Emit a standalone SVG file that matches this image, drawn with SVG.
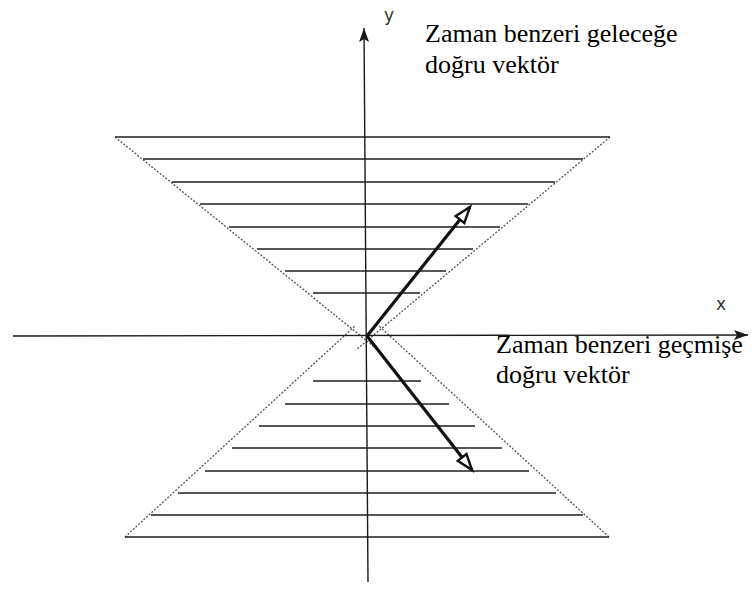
<svg xmlns="http://www.w3.org/2000/svg" width="752" height="592" viewBox="0 0 752 592">
<style>
.hatch{stroke:#1e1e1e;stroke-width:1.7;fill:none}
.edge{stroke:#555;stroke-width:1.3;stroke-dasharray:2 1.6;fill:none}
.axis{stroke:#1a1a1a;stroke-width:1.4;fill:none}
.vec{stroke:#111;stroke-width:3.2;fill:none}
.lbl{font-family:"Liberation Serif","Times New Roman",serif;font-size:26px;fill:#000}
.ax{font-family:"DejaVu Sans","Liberation Sans",sans-serif;font-size:17px;fill:#333}
</style>
<defs>
<marker id="axhead" markerUnits="userSpaceOnUse" markerWidth="16" markerHeight="12" refX="14" refY="6" orient="auto">
<path d="M0,1 L14,6 L0,11 L3,6 Z" fill="#1a1a1a"/>
</marker>
<marker id="vhead" markerUnits="userSpaceOnUse" markerWidth="22" markerHeight="16" refX="18" refY="8" orient="auto">
<path d="M2,2.5 L18,8 L2,13.5 Z" fill="#fff" stroke="#111" stroke-width="2.4" stroke-linejoin="miter"/>
</marker>
</defs>
<rect width="752" height="592" fill="#fff"/>
<g id="cone-future">
<line class="edge" x1="115" y1="137" x2="378" y2="350"/>
<line class="edge" x1="610" y1="137" x2="356" y2="350"/>
<line class="hatch" x1="115" y1="137" x2="610" y2="137"/>
<line class="hatch" x1="143" y1="159" x2="583" y2="159"/>
<line class="hatch" x1="172" y1="182" x2="555" y2="182"/>
<line class="hatch" x1="200" y1="204" x2="528" y2="204"/>
<line class="hatch" x1="229" y1="227" x2="500" y2="227"/>
<line class="hatch" x1="257" y1="249" x2="473" y2="249"/>
<line class="hatch" x1="285" y1="271" x2="446" y2="271"/>
<line class="hatch" x1="313" y1="293" x2="420" y2="293"/>
</g>
<g id="cone-past">
<line class="edge" x1="125" y1="537" x2="355" y2="326"/>
<line class="edge" x1="609" y1="537" x2="379" y2="326"/>
<line class="hatch" x1="313" y1="381" x2="421" y2="381"/>
<line class="hatch" x1="285" y1="404" x2="449" y2="404"/>
<line class="hatch" x1="259" y1="426" x2="475" y2="426"/>
<line class="hatch" x1="232" y1="448" x2="502" y2="448"/>
<line class="hatch" x1="205" y1="471" x2="529" y2="471"/>
<line class="hatch" x1="178" y1="493" x2="556" y2="493"/>
<line class="hatch" x1="151" y1="515" x2="583" y2="515"/>
<line class="hatch" x1="125" y1="537" x2="609" y2="537"/>
</g>
<g id="connectors">
<line id="x-axis" class="axis" x1="13" y1="336" x2="748" y2="335" marker-end="url(#axhead)"/>
<line id="y-axis" class="axis" x1="368" y1="582" x2="364" y2="28" marker-end="url(#axhead)"/>
<line id="future-vector" class="vec" x1="367" y1="336" x2="470" y2="207" marker-end="url(#vhead)"/>
<line id="past-vector" class="vec" x1="367" y1="336" x2="472" y2="470" marker-end="url(#vhead)"/>
</g>
<g id="axis-labels">
<text class="ax" x="384" y="21">y</text>
<text class="ax" x="716" y="310">x</text>
</g>
<g id="label-future">
<text class="lbl" x="425" y="42">Zaman benzeri geleceğe</text>
<text class="lbl" x="425" y="73">doğru vektör</text>
</g>
<g id="label-past">
<text class="lbl" x="496" y="353">Zaman benzeri geçmişe</text>
<text class="lbl" x="496" y="383">doğru vektör</text>
</g>
</svg>
